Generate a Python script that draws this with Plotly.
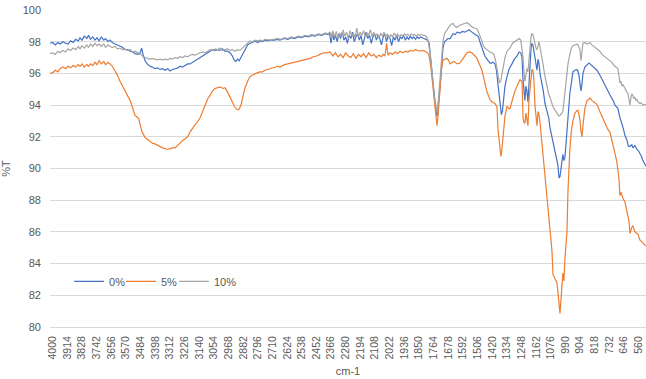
import plotly.graph_objects as go

# FTIR transmittance spectra (%T vs wavenumber, cm-1) for three loadings

wn_0 = [4016, 4000, 3985, 3970, 3957, 3940, 3925, 3910, 3895, 3880, 3865, 3850, 3840, 3828, 3815, 3800, 3790, 3778, 3765, 3752,
        3740, 3728, 3715, 3700, 3690, 3675, 3664, 3650, 3634, 3620, 3605, 3590, 3576, 3560, 3546, 3530, 3517, 3500, 3488, 3478,
        3470, 3458, 3445, 3429, 3415, 3400, 3385, 3370, 3355, 3341, 3325, 3312, 3297, 3282, 3265, 3253, 3238, 3223, 3208, 3194,
        3180, 3165, 3150, 3135, 3120, 3106, 3090, 3077, 3062, 3047, 3032, 3018, 3004, 2989, 2974, 2959, 2945, 2935, 2925, 2915,
        2905, 2895, 2885, 2871, 2856, 2842, 2827, 2812, 2797, 2783, 2768, 2754, 2739, 2724, 2700, 2680, 2666, 2640, 2620, 2600,
        2580, 2560, 2540, 2520, 2500, 2480, 2460, 2440, 2420, 2400, 2385, 2375, 2366, 2358, 2350,
        2340, 2330, 2320, 2310, 2300, 2290, 2280, 2270, 2260, 2250, 2240, 2230, 2220, 2210, 2200, 2190, 2180, 2170, 2160, 2150,
        2140, 2130, 2120, 2110, 2100, 2090, 2080, 2070, 2060, 2050, 2040, 2030, 2020, 2010, 2000, 1990, 1980, 1970, 1960, 1950,
        1940, 1930, 1920, 1910, 1900, 1890, 1880, 1870, 1860, 1850, 1840, 1830, 1820, 1810,
        1800, 1790, 1785, 1775, 1768, 1760, 1752, 1744, 1738, 1732, 1726, 1718, 1709, 1700, 1690, 1680, 1667, 1660, 1650, 1638,
        1625, 1609, 1595, 1580, 1568, 1555, 1545, 1535, 1521, 1510, 1500, 1492, 1482, 1474, 1463, 1450, 1440, 1433, 1425, 1416,
        1404, 1395, 1388, 1380, 1372, 1366, 1360, 1355, 1345, 1333, 1320, 1304, 1290, 1274, 1262, 1252, 1245, 1239, 1233, 1228,
        1222, 1216, 1210, 1204, 1198, 1192, 1187, 1181, 1175, 1169, 1163, 1157, 1151, 1145, 1138, 1128, 1120, 1110, 1099, 1088,
        1081, 1069, 1063, 1052, 1040, 1034, 1028, 1022, 1017, 1011, 1005, 999, 993, 987, 981, 975, 964, 955, 946, 934,
        922, 917, 911, 905, 899, 893, 887, 876, 864, 852, 846, 835, 823, 805, 788, 770, 746, 729, 711, 699,
        682, 670, 652, 641, 629, 620, 611, 600, 594, 582, 570, 560, 553, 545, 535, 525, 517]
pt_0 = [97.9, 97.95, 97.8, 97.95, 97.85, 98.0, 97.9, 97.85, 98.05, 97.95, 98.15, 98.05, 98.25, 98.1, 98.35, 98.2, 98.4, 98.15, 98.3, 98.1,
        98.25, 98.05, 98.3, 98.1, 98.2, 98.0, 98.1, 97.95, 97.85, 97.8, 97.7, 97.65, 97.5, 97.5, 97.4, 97.35, 97.25, 97.2, 97.25, 97.6,
        97.2, 96.8, 96.6, 96.45, 96.4, 96.3, 96.35, 96.25, 96.3, 96.2, 96.3, 96.15, 96.25, 96.3, 96.35, 96.45, 96.4, 96.5, 96.6, 96.6,
        96.7, 96.75, 96.9, 97.0, 97.1, 97.2, 97.3, 97.4, 97.5, 97.45, 97.5, 97.45, 97.55, 97.4, 97.4, 97.3, 97.1, 96.85, 96.75, 96.9,
        96.8, 97.0, 97.2, 97.5, 97.8, 97.9, 97.95, 98.05, 97.95, 98.05, 98.0, 98.1, 98.05, 98.1, 98.1, 98.15, 98.1, 98.2, 98.15, 98.25,
        98.2, 98.3, 98.25, 98.35, 98.3, 98.4, 98.35, 98.45, 98.4, 98.5, 98.45, 98.55, 97.9, 98.6, 98.1,
        98.4, 98.0, 98.5, 98.2, 98.6, 98.1, 98.3, 97.9, 98.4, 98.2, 98.6, 98.0, 98.3, 98.5, 98.1, 98.4, 97.8, 98.3, 98.6, 98.2,
        98.4, 97.9, 98.3, 98.5, 98.1, 98.4, 98.2, 97.8, 98.3, 98.5, 98.0, 98.4, 98.2, 97.75, 98.3, 98.1, 98.4, 98.0, 98.3, 98.2,
        98.4, 98.1, 98.3, 98.15, 98.35, 98.2, 98.3, 98.15, 98.3, 98.2, 98.3, 98.25, 98.2, 98.2,
        98.1, 97.9, 97.3, 96.4, 95.3, 94.6, 93.8, 93.3, 93.8, 94.5, 95.2, 96.5, 97.6, 98.0, 98.1, 98.2, 98.2, 98.3, 98.5, 98.45,
        98.6, 98.55, 98.65, 98.6, 98.7, 98.75, 98.65, 98.55, 98.45, 98.4, 98.3, 98.0, 97.7, 97.35, 97.1, 96.9, 96.7, 96.65, 96.65, 96.7,
        96.6, 96.2, 95.5, 94.8, 94.0, 93.4, 93.6, 94.2, 95.2, 95.8, 96.3, 96.6, 96.9, 97.1, 97.35, 97.3, 97.0, 95.6, 94.6, 94.3,
        95.2, 94.9, 94.2, 95.3, 96.8, 97.6, 97.9, 97.8, 97.4, 96.9, 96.6, 96.2, 96.9, 96.6, 95.9, 95.4, 94.9, 94.1, 93.6, 93.2,
        92.6, 92.0, 91.6, 91.1, 90.55, 90.2, 89.4, 89.5, 89.9, 90.6, 90.9, 90.5, 90.7, 91.5, 92.2, 93.2, 94.75, 95.6, 96.1, 96.2,
        96.25, 96.15, 95.9, 95.4, 94.9, 95.3, 96.0, 96.4, 96.55, 96.65, 96.6, 96.5, 96.35, 96.2, 95.9, 95.5, 95.0, 94.65, 94.3, 94.0,
        93.8, 93.2, 92.6, 92.1, 91.8, 91.4, 91.4, 91.5, 91.3, 91.45, 91.2, 91.1, 90.95, 90.8, 90.5, 90.3, 90.15]

wn_5 = [4016, 4000, 3985, 3970, 3957, 3940, 3925, 3910, 3895, 3880, 3865, 3850, 3840, 3828, 3815, 3800, 3790, 3778, 3765, 3752,
        3740, 3728, 3715, 3700, 3690, 3675, 3664, 3650, 3634, 3620, 3605, 3590, 3576, 3560, 3546, 3530, 3517, 3505, 3495, 3488,
        3475, 3458, 3445, 3429, 3415, 3400, 3385, 3370, 3355, 3341, 3325, 3312, 3297, 3282, 3265, 3253, 3238, 3223, 3208, 3194,
        3180, 3165, 3150, 3135, 3120, 3106, 3090, 3077, 3062, 3047, 3032, 3018, 3000, 2989, 2975, 2960, 2945, 2930, 2915, 2905,
        2895, 2885, 2871, 2856, 2842, 2827, 2812, 2797, 2783, 2768, 2754, 2739, 2724, 2700, 2680, 2666, 2640, 2620, 2600, 2580,
        2560, 2548, 2530, 2510, 2489, 2470, 2450, 2431, 2410, 2390, 2372, 2355, 2340, 2325, 2310, 2295, 2280, 2265, 2250, 2235,
        2220, 2205, 2190, 2175, 2160, 2145, 2130, 2115, 2100, 2085, 2070, 2060, 2050, 2040, 2032, 2020, 2005, 1990, 1975, 1961,
        1945, 1930, 1915, 1900, 1885, 1870, 1855, 1844, 1830, 1814, 1800, 1790, 1780, 1770, 1760, 1752, 1744, 1738, 1732, 1726,
        1718, 1709, 1697, 1685, 1675, 1667, 1655, 1645, 1638, 1625, 1609, 1595, 1580, 1568, 1555, 1539, 1521, 1509, 1500, 1492,
        1480, 1463, 1450, 1433, 1421, 1404, 1392, 1386, 1380, 1374, 1369, 1363, 1357, 1345, 1333, 1316, 1300, 1286, 1270, 1257,
        1245, 1239, 1233, 1228, 1222, 1216, 1210, 1204, 1198, 1192, 1187, 1181, 1175, 1169, 1163, 1157, 1151, 1145, 1140, 1128,
        1122, 1110, 1099, 1093, 1081, 1069, 1063, 1052, 1040, 1034, 1028, 1022, 1017, 1011, 1005, 999, 993, 981, 975, 964,
        955, 946, 934, 922, 917, 911, 905, 899, 893, 887, 876, 864, 852, 846, 835, 823, 811, 805, 788, 776,
        764, 752, 740, 729, 717, 705, 699, 688, 682, 676, 670, 664, 658, 652, 641, 635, 623, 617, 611, 605,
        600, 594, 582, 570, 564, 553, 540, 530, 517]
pt_5 = [96.0, 96.05, 96.2, 96.1, 96.3, 96.4, 96.3, 96.45, 96.35, 96.5, 96.4, 96.55, 96.45, 96.6, 96.4, 96.55, 96.45, 96.6, 96.5, 96.7,
        96.55, 96.8, 96.6, 96.75, 96.55, 96.7, 96.6, 96.45, 96.15, 95.9, 95.5, 95.2, 94.85, 94.6, 94.3, 93.8, 93.35, 93.25, 93.15, 92.8,
        92.3, 91.95, 91.85, 91.7, 91.6, 91.55, 91.45, 91.35, 91.3, 91.25, 91.2, 91.25, 91.3, 91.3, 91.45, 91.6, 91.75, 91.85, 92.0, 92.3,
        92.55, 92.75, 92.95, 93.2, 93.6, 94.0, 94.4, 94.6, 94.9, 95.05, 95.1, 95.15, 95.05, 95.1, 94.85, 94.5, 94.1, 93.85, 93.7, 93.75,
        94.0, 94.5, 95.1, 95.5, 95.8, 95.9, 96.0, 96.05, 96.1, 96.1, 96.2, 96.25, 96.3, 96.35, 96.45, 96.4, 96.55, 96.6, 96.65, 96.7,
        96.75, 96.8, 96.85, 96.9, 96.95, 97.05, 97.1, 97.2, 97.3, 97.3, 97.35, 97.1, 97.3, 97.05, 97.2, 97.0, 97.3, 97.1, 97.0, 97.25,
        96.95, 97.2, 97.05, 97.25, 97.0, 97.3, 97.1, 97.2, 97.0, 97.15, 97.05, 97.2, 97.1, 97.9, 97.15, 97.3, 97.2, 97.35, 97.25, 97.4,
        97.3, 97.4, 97.35, 97.45, 97.4, 97.5, 97.45, 97.4, 97.45, 97.4, 97.3, 97.1, 96.4, 95.4, 94.3, 93.4, 92.7, 93.3, 94.3, 95.4,
        96.2, 96.85, 96.9, 96.95, 96.8, 96.6, 96.7, 96.75, 96.7, 96.6, 96.65, 96.9, 97.1, 97.3, 97.35, 97.3, 97.1, 96.95, 96.7, 96.45,
        96.2, 95.4, 94.8, 94.35, 94.2, 94.1, 93.9, 92.5, 91.8, 91.2, 90.76, 91.2, 91.9, 93.3, 93.9, 93.75, 94.4, 94.9, 95.3, 95.6,
        95.5, 93.2, 92.9, 92.85, 93.5, 93.2, 92.7, 94.3, 95.2, 96.0, 96.25, 96.2, 95.6, 94.0, 93.4, 92.7, 93.6, 93.4, 93.0, 91.6,
        90.8, 89.5, 88.1, 87.3, 86.0, 84.8, 83.3, 83.0, 82.8, 82.2, 81.6, 80.85, 81.6, 82.3, 83.4, 82.9, 84.3, 86.0, 88.6, 91.2,
        92.4, 93.0, 93.5, 93.65, 93.7, 93.4, 93.1, 92.4, 92.0, 92.7, 93.8, 94.25, 94.4, 94.45, 94.3, 94.2, 94.1, 94.05, 93.6, 93.3,
        93.0, 92.8, 92.45, 92.3, 91.8, 91.3, 90.95, 90.4, 89.9, 89.4, 88.3, 88.5, 88.3, 88.1, 87.9, 87.6, 87.0, 86.7, 85.9, 86.2,
        86.3, 86.4, 86.0, 85.9, 85.85, 85.5, 85.35, 85.2, 85.1]

wn_10 = [4016, 4000, 3985, 3970, 3957, 3940, 3925, 3910, 3895, 3880, 3865, 3850, 3840, 3828, 3815, 3800, 3790, 3778, 3765, 3752,
         3740, 3728, 3715, 3700, 3690, 3675, 3664, 3650, 3634, 3620, 3605, 3590, 3576, 3560, 3546, 3530, 3517, 3500, 3488, 3475,
         3458, 3445, 3429, 3415, 3400, 3385, 3370, 3355, 3341, 3325, 3312, 3297, 3282, 3265, 3253, 3238, 3223, 3208, 3194, 3180,
         3165, 3150, 3135, 3120, 3106, 3090, 3077, 3062, 3047, 3032, 3018, 3004, 2989, 2974, 2959, 2945, 2930, 2915, 2900, 2885,
         2871, 2856, 2842, 2827, 2812, 2797, 2783, 2768, 2754, 2724, 2700, 2680, 2660, 2640, 2620, 2600, 2580, 2560, 2540, 2520,
         2500, 2480, 2460, 2440, 2420, 2400, 2385, 2372,
         2362, 2355, 2345, 2335, 2325, 2315, 2305, 2295, 2285, 2275, 2265, 2255, 2245, 2235, 2225, 2215, 2205, 2195, 2185, 2175,
         2165, 2155, 2145, 2135, 2125, 2115, 2105, 2095, 2085, 2075, 2065, 2055, 2045, 2035, 2025, 2015, 2005, 1995, 1985, 1975,
         1965, 1955, 1945, 1935, 1925, 1915, 1905, 1895, 1885, 1875, 1865, 1855, 1845, 1835, 1825, 1815,
         1805, 1795, 1785, 1775, 1768, 1760, 1752, 1744, 1738, 1732, 1726, 1718, 1709, 1700, 1690, 1680, 1670, 1660, 1650, 1640,
         1630, 1620, 1609, 1595, 1580, 1568, 1555, 1545, 1535, 1521, 1509, 1500, 1492, 1482, 1474, 1463, 1450, 1440, 1433, 1421,
         1410, 1400, 1392, 1385, 1378, 1370, 1363, 1357, 1345, 1333, 1316, 1300, 1286, 1274, 1262, 1252, 1245, 1239, 1233, 1228,
         1222, 1216, 1210, 1204, 1198, 1192, 1187, 1181, 1175, 1169, 1163, 1157, 1151, 1145, 1140, 1128, 1122, 1110, 1099, 1088,
         1081, 1069, 1063, 1052, 1040, 1034, 1028, 1022, 1017, 1011, 1005, 999, 993, 981, 975, 964, 955, 946, 934, 922,
         917, 911, 905, 899, 893, 887, 876, 864, 852, 846, 835, 823, 811, 800, 788, 776, 764, 752, 740, 729,
         717, 705, 699, 688, 682, 676, 670, 664, 658, 652, 641, 635, 629, 623, 617, 611, 605, 600, 594, 588,
         582, 576, 570, 564, 553, 545, 535, 525, 517]
pt_10 = [97.25, 97.3, 97.2, 97.4, 97.3, 97.45, 97.35, 97.55, 97.45, 97.6, 97.5, 97.7, 97.55, 97.75, 97.6, 97.8, 97.65, 97.85, 97.7, 97.9,
         97.75, 97.85, 97.7, 97.85, 97.65, 97.8, 97.7, 97.65, 97.7, 97.55, 97.6, 97.5, 97.55, 97.45, 97.5, 97.35, 97.4, 97.3, 97.3, 97.1,
         97.0, 96.95, 96.9, 96.95, 96.9, 96.85, 96.9, 96.85, 96.9, 96.85, 96.95, 96.9, 97.0, 96.95, 97.05, 97.0, 97.1, 97.05, 97.15, 97.2,
         97.15, 97.25, 97.3, 97.35, 97.3, 97.4, 97.5, 97.45, 97.55, 97.5, 97.6, 97.45, 97.5, 97.55, 97.45, 97.5, 97.4, 97.5, 97.45, 97.6,
         97.8, 97.95, 98.05, 98.0, 98.1, 98.05, 98.1, 98.05, 98.15, 98.1, 98.15, 98.2, 98.15, 98.25, 98.2, 98.3, 98.25, 98.35, 98.3, 98.4,
         98.35, 98.45, 98.4, 98.5, 98.45, 98.55, 98.5, 98.6,
         98.2, 98.7, 98.3, 98.65, 98.2, 98.55, 98.3, 98.75, 98.35, 98.6, 98.2, 98.7, 98.4, 98.55, 98.25, 98.85, 98.3, 98.6, 98.4, 98.7,
         98.3, 98.55, 98.45, 98.75, 98.3, 98.6, 98.35, 98.5, 98.2, 98.55, 98.35, 98.6, 98.3, 98.5, 98.2, 98.45, 98.3, 98.55, 98.35, 98.5,
         98.3, 98.45, 98.35, 98.5, 98.4, 98.45, 98.35, 98.5, 98.4, 98.45, 98.35, 98.45, 98.4, 98.45, 98.4, 98.4,
         98.3, 98.0, 97.3, 96.4, 95.5, 94.6, 93.9, 93.5, 94.0, 94.8, 95.8, 97.0, 98.0, 98.5, 98.7, 98.8, 99.0, 99.1, 99.15, 99.0,
         98.9, 98.95, 99.05, 99.1, 99.15, 99.2, 99.1, 99.0, 98.9, 98.85, 98.8, 98.6, 98.4, 98.1, 97.8, 97.6, 97.5, 97.4, 97.35, 97.3,
         97.2, 96.8, 96.2, 95.7, 95.4, 95.5, 95.9, 96.3, 97.0, 97.4, 97.6, 97.9, 98.0, 98.1, 98.2, 98.1, 97.6, 97.0, 96.0, 95.5,
         95.9, 96.3, 96.1, 96.9, 97.8, 98.3, 98.5, 98.45, 98.2, 97.8, 97.6, 97.5, 97.8, 98.0, 97.7, 97.1, 96.6, 95.8, 95.2, 94.7,
         94.5, 94.1, 93.9, 93.7, 93.5, 93.35, 93.3, 93.35, 93.4, 93.5, 93.6, 94.3, 95.0, 96.0, 96.6, 97.2, 97.6, 97.75, 97.8, 97.85,
         97.8, 97.6, 97.5, 96.8, 97.3, 97.9, 97.95, 97.85, 97.9, 97.95, 97.8, 97.7, 97.6, 97.5, 97.4, 97.2, 97.1, 97.0, 96.9, 96.8,
         96.7, 96.5, 96.45, 96.35, 96.3, 95.9, 95.4, 95.5, 95.2, 95.3, 95.0, 94.9, 94.8, 94.75, 94.4, 94.0, 94.5, 94.7, 94.6, 94.4,
         94.5, 94.3, 94.35, 94.2, 94.1, 94.15, 94.0, 94.05, 94.0]

# category-style tick labels every 86 cm-1
tick_vals = list(range(4000, 559, -86))
tick_text = [str(v) for v in tick_vals]

series = [("0%", wn_0, pt_0, "#4472C4", "legend"),
          ("5%", wn_5, pt_5, "#ED7D31", "legend2"),
          ("10%", wn_10, pt_10, "#A5A5A5", "legend3")]

fig = go.Figure()
for name, wn, pt, color, leg in series:
    fig.add_trace(go.Scatter(x=wn, y=pt, mode="lines", name=name, legend=leg,
                             line=dict(color=color, width=1.2)))

font_color = "#595959"
legend_style = dict(orientation="h", y=0.144, xanchor="left", yanchor="middle",
                    bgcolor="rgba(0,0,0,0)", font=dict(size=11, color=font_color),
                    itemwidth=30)
fig.update_layout(
    width=646, height=379,
    margin=dict(l=50, r=0, t=10, b=52),
    plot_bgcolor="white", paper_bgcolor="white",
    font=dict(family="Liberation Sans, Arial, sans-serif", size=11, color=font_color),
    legend=dict(x=0.032, **legend_style),
    legend2=dict(x=0.119, **legend_style),
    legend3=dict(x=0.208, **legend_style),
    showlegend=True,
)
fig.update_xaxes(
    range=[4016, 517], tickvals=tick_vals, ticktext=tick_text, tickangle=-90,
    showgrid=False, zeroline=False, showline=True, linecolor="#d9d9d9", linewidth=1,
    ticks="", tickfont=dict(size=10.5, color=font_color), ticklabelstandoff=4,
    title=dict(text="cm-1", font=dict(size=11, color=font_color), standoff=8),
)
fig.update_yaxes(
    range=[80, 100], dtick=2, showgrid=True, gridcolor="#d9d9d9", gridwidth=1,
    zeroline=False, showline=False, ticks="", tickfont=dict(size=11, color=font_color),
    ticklabelstandoff=8,
    title=dict(text="%T", font=dict(size=11, color=font_color), standoff=10),
)

fig.write_html("out.html")
